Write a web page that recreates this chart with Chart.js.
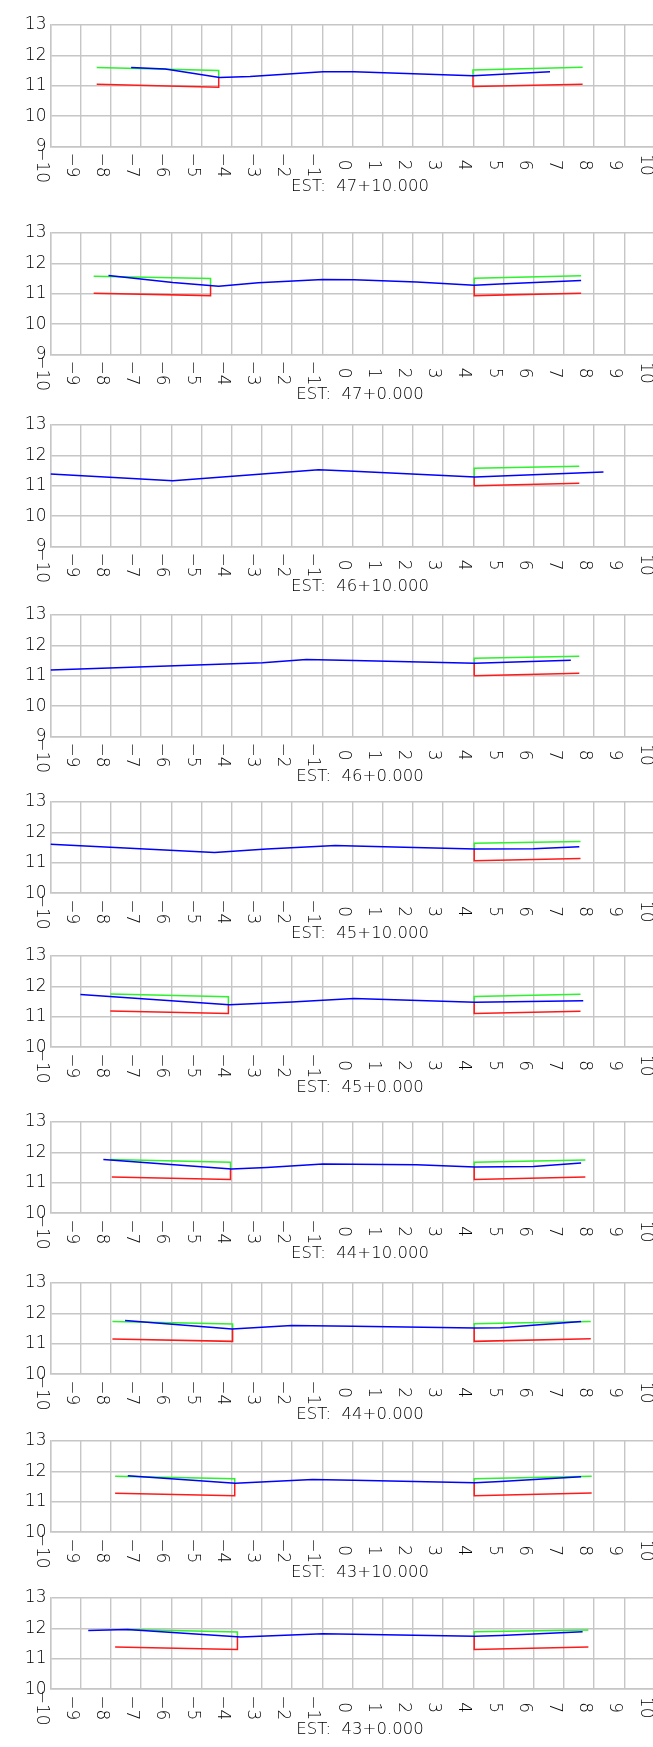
<!DOCTYPE html>
<html lang="es">
<head>
    <meta charset="UTF-8">
    <title>Secciones transversales</title>
    <script src="https://cdn.jsdelivr.net/npm/chart.js"></script>
    <style>
        html, body { margin: 0; padding: 0; background: #fff; overflow: hidden; }
        #sheet { position: relative; width: 653px; height: 1747px; overflow: hidden; }
        #sheet canvas { position: absolute; left: 0; }
    </style>
</head>
<body>
<div id="sheet"></div>
<script>
    // estaciones (de arriba hacia abajo)
    const stations = ['47+10.000', '47+0.000', '46+10.000', '46+0.000', '45+10.000',
                      '45+0.000', '44+10.000', '44+0.000', '43+10.000', '43+0.000'];
    const yMins = [9, 9, 9, 9, 10, 10, 10, 10, 10, 10];
    const yMax = 13;
    const xTicks = [-10, 10];

    // terreno (azul)
    const ground = [
        [[-7.33,11.60],[-6.2,11.55],[-4.40,11.27],[-3.39,11.31],[-0.98,11.46],[0.05,11.46],[3.99,11.33],[6.54,11.46]],
        [[-8.08,11.60],[-5.95,11.37],[-4.43,11.25],[-3.12,11.36],[-0.98,11.47],[0.05,11.46],[2.12,11.39],[4.03,11.28],[4.88,11.32],[7.57,11.44]],
        [[-10,11.39],[-5.95,11.17],[-1.12,11.53],[0.05,11.48],[4.06,11.29],[8.31,11.45]],
        [[-10,11.19],[-2.98,11.43],[-1.53,11.54],[0.05,11.50],[4.06,11.41],[7.23,11.51]],
        [[-10,11.61],[-4.57,11.34],[-2.84,11.45],[-0.57,11.57],[0.05,11.55],[4.06,11.45],[5.99,11.46],[7.51,11.53]],
        [[-9.01,11.73],[-4.08,11.40],[-2.01,11.49],[0.05,11.60],[4.06,11.48],[7.64,11.53]],
        [[-8.25,11.77],[-4.01,11.45],[-2.84,11.50],[-0.98,11.62],[0.05,11.61],[2.12,11.59],[4.06,11.52],[5.99,11.54],[7.57,11.65]],
        [[-7.53,11.77],[-3.99,11.49],[-2.01,11.60],[0.05,11.58],[4.06,11.52],[4.9,11.53],[7.57,11.73]],
        [[-7.44,11.86],[-3.88,11.61],[-1.32,11.73],[0.05,11.71],[4.06,11.63],[4.9,11.67],[7.57,11.82]],
        [[-8.75,11.93],[-7.46,11.96],[-3.70,11.72],[-0.98,11.82],[0.05,11.81],[4.06,11.74],[4.9,11.77],[7.62,11.89]]
    ];

    // acera izquierda: rasante (verde) y subrasante (rojo)
    const greenLeft = [
        [[-8.47,11.60],[-4.43,11.50],[-4.43,11.27]],
        [[-8.57,11.58],[-4.70,11.50],[-4.70,11.28]],
        null,
        null,
        null,
        [[-8.02,11.75],[-4.11,11.66],[-4.11,11.40]],
        [[-8.02,11.77],[-4.04,11.68],[-4.04,11.45]],
        [[-7.95,11.73],[-3.97,11.65],[-3.97,11.49]],
        [[-7.86,11.84],[-3.90,11.76],[-3.90,11.61]],
        [[-7.46,11.96],[-3.81,11.88],[-3.81,11.72]]
    ];
    const redLeft = [
        [[-8.47,11.05],[-4.43,10.95],[-4.43,11.27]],
        [[-8.57,11.02],[-4.70,10.94],[-4.70,11.28]],
        null,
        null,
        null,
        [[-8.02,11.19],[-4.11,11.11],[-4.11,11.40]],
        [[-7.97,11.19],[-4.04,11.11],[-4.04,11.45]],
        [[-7.95,11.16],[-3.97,11.08],[-3.97,11.49]],
        [[-7.86,11.28],[-3.90,11.20],[-3.90,11.61]],
        [[-7.86,11.39],[-3.81,11.31],[-3.81,11.72]]
    ];

    // acera derecha
    const greenRight = [
        [[3.99,11.33],[3.99,11.52],[7.62,11.61]],
        [[4.03,11.28],[4.03,11.51],[7.57,11.59]],
        [[4.03,11.29],[4.03,11.58],[7.51,11.64]],
        [[4.03,11.41],[4.03,11.58],[7.51,11.64]],
        [[4.03,11.45],[4.03,11.64],[7.55,11.70]],
        [[4.03,11.48],[4.03,11.67],[7.55,11.74]],
        [[4.03,11.52],[4.03,11.68],[7.71,11.75]],
        [[4.03,11.52],[4.03,11.66],[7.89,11.73]],
        [[4.03,11.63],[4.03,11.76],[7.92,11.84]],
        [[4.03,11.74],[4.03,11.89],[7.81,11.95]]
    ];
    const redRight = [
        [[3.99,11.33],[3.99,10.98],[7.62,11.05]],
        [[4.03,11.28],[4.03,10.94],[7.57,11.02]],
        [[4.03,11.29],[4.03,11.00],[7.51,11.08]],
        [[4.03,11.41],[4.03,11.00],[7.51,11.08]],
        [[4.03,11.45],[4.03,11.07],[7.55,11.14]],
        [[4.03,11.48],[4.03,11.11],[7.55,11.18]],
        [[4.03,11.52],[4.03,11.11],[7.71,11.19]],
        [[4.03,11.52],[4.03,11.08],[7.89,11.17]],
        [[4.03,11.63],[4.03,11.20],[7.92,11.29]],
        [[4.03,11.74],[4.03,11.31],[7.81,11.39]]
    ];

    // maquetación
    const plotTops = [25, 232.7, 425, 615, 801.7, 955.7, 1122.3, 1282.7, 1440.7, 1598.3];
    const unitY = 30.4;
    const padTop = 15, padBottom = 60;
    const canvasW = 660;
    const plotLeft = 50.5, plotRight = 654.5;
    const FONT = '"DejaVu Sans", sans-serif';
    const TEXT = '#000';
    const GRID = '#c6c6c6';

    const fmt = v => (v < 0 ? '\u2212' + Math.abs(v) : String(v));

    // etiquetas estilo CAD: ejes girados y estación
    const cadLabels = {
        id: 'cadLabels',
        afterDraw(chart) {
            const {ctx, chartArea, scales} = chart;
            const x = scales.x, y = scales.y;
            ctx.save();
            ctx.fillStyle = TEXT;
            ctx.font = '200 17px ' + FONT;

            ctx.textAlign = 'right';
            ctx.textBaseline = 'middle';
            y.ticks.forEach(t => {
                ctx.fillText(fmt(t.value), chartArea.left - 4, y.getPixelForValue(t.value));
            });

            x.ticks.forEach(t => {
                ctx.save();
                ctx.translate(x.getPixelForValue(t.value) - 1, chartArea.bottom + 18.5);
                ctx.rotate(Math.PI / 2);
                ctx.textAlign = 'center';
                ctx.textBaseline = 'top';
                ctx.fillText(fmt(t.value), 0, 0);
                ctx.restore();
            });

            ctx.font = '200 16.5px ' + FONT;
            ctx.textAlign = 'center';
            ctx.textBaseline = 'middle';
            ctx.fillText('EST:  ' + chart.options.plugins.cadLabels.station, 360, chartArea.bottom + 40.5);
            ctx.restore();
        }
    };

    const toXY = pts => pts.map(p => ({x: p[0], y: p[1]}));

    function line(pts, color) {
        return {
            data: toXY(pts),
            borderColor: color,
            borderWidth: 1.5,
            pointRadius: 0,
            fill: false,
            tension: 0
        };
    }

    const sheet = document.getElementById('sheet');

    stations.forEach((st, i) => {
        const plotH = (yMax - yMins[i]) * unitY;
        const canvas = document.createElement('canvas');
        canvas.width = canvasW;
        canvas.height = Math.round(plotH + padTop + padBottom);
        canvas.style.top = (plotTops[i] - padTop) + 'px';
        sheet.appendChild(canvas);

        const datasets = [line(ground[i], '#0000ff')];
        if (greenLeft[i]) datasets.push(line(greenLeft[i], '#2df22d'));
        if (redLeft[i]) datasets.push(line(redLeft[i], '#ff1a1a'));
        datasets.push(line(greenRight[i], '#2df22d'));
        datasets.push(line(redRight[i], '#ff1a1a'));

        new Chart(canvas, {
            type: 'line',
            data: {datasets},
            plugins: [cadLabels],
            options: {
                responsive: false,
                animation: false,
                devicePixelRatio: 1,
                layout: {
                    padding: {
                        left: plotLeft,
                        right: canvasW - plotRight,
                        top: padTop,
                        bottom: canvas.height - padTop - plotH
                    }
                },
                plugins: {
                    legend: {display: false},
                    tooltip: {enabled: false},
                    cadLabels: {station: st}
                },
                scales: {
                    x: {
                        type: 'linear',
                        min: xTicks[0],
                        max: xTicks[1],
                        ticks: {stepSize: 1, display: false},
                        grid: {color: GRID, lineWidth: 1.4, drawTicks: false},
                        border: {color: GRID, width: 1.4}
                    },
                    y: {
                        type: 'linear',
                        min: yMins[i],
                        max: yMax,
                        ticks: {stepSize: 1, display: false},
                        grid: {color: GRID, lineWidth: 1.4, drawTicks: false},
                        border: {color: GRID, width: 1.4}
                    }
                }
            }
        });
    });
</script>
</body>
</html>
